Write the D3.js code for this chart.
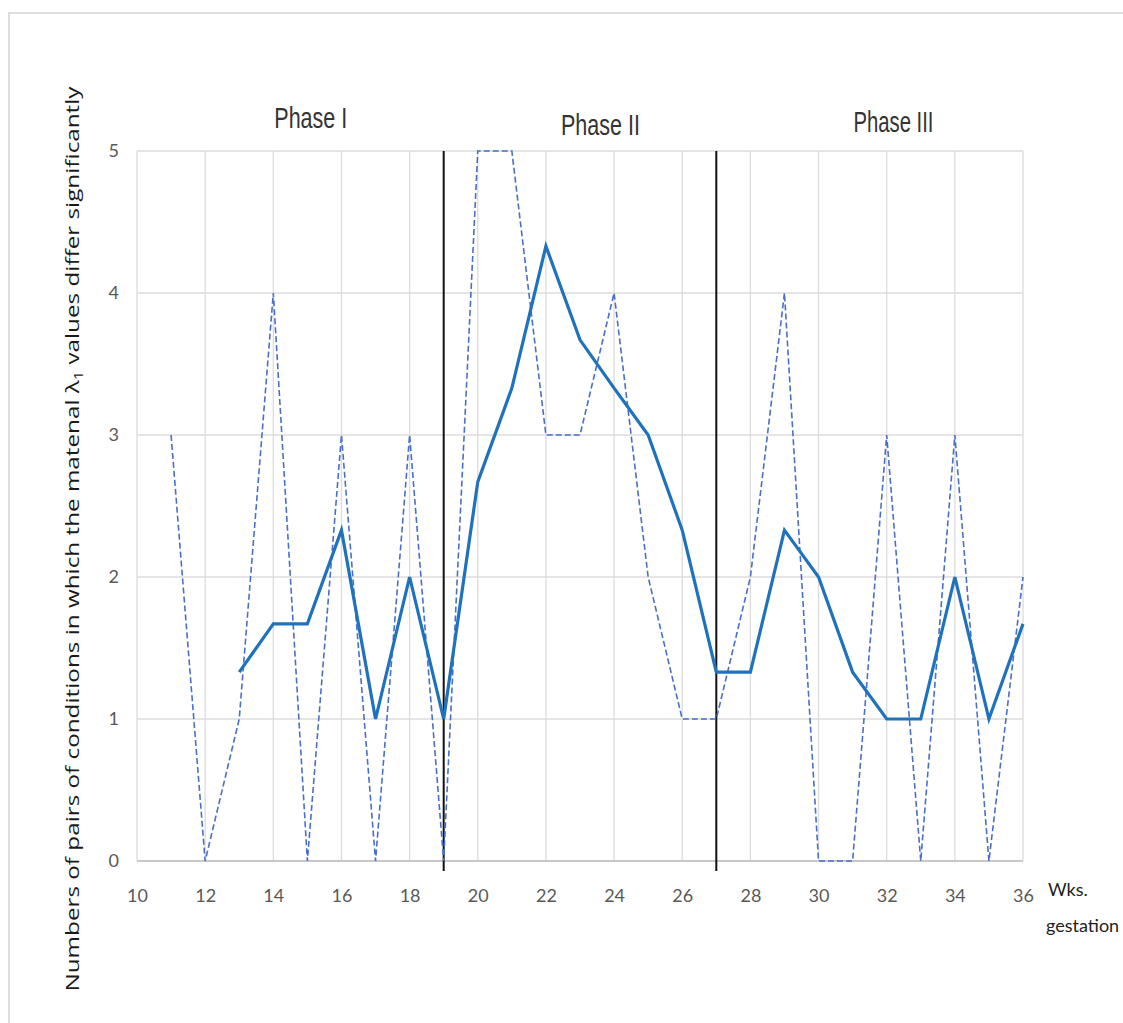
<!DOCTYPE html>
<html>
<head>
<meta charset="utf-8">
<script src="https://cdn.jsdelivr.net/npm/d3@7"></script>
<style>
  body { margin: 0; background: #fff; }
  svg { display: block; }
</style>
</head>
<body>
<div id="chart"></div>
<script>
// weeks of gestation
const weeks = [11, 12, 13, 14, 15, 16, 17, 18, 19, 20, 21, 22, 23, 24, 25, 26, 27, 28, 29, 30, 31, 32, 33, 34, 35, 36];
// counts per week (dashed)
const counts = [3, 0, 1, 4, 0, 3, 0, 3, 0, 5, 5, 3, 3, 4, 2, 1, 1, 2, 4, 0, 0, 3, 0, 3, 0, 2];
// smoothed curve (solid), starts at week 13
const smoothWeeks = [13, 14, 15, 16, 17, 18, 19, 20, 21, 22, 23, 24, 25, 26, 27, 28, 29, 30, 31, 32, 33, 34, 35, 36];
const smooth = [1.33, 1.67, 1.67, 2.33, 1, 2, 1, 2.67, 3.33, 4.33, 3.67, 3.33, 3, 2.33, 1.33, 1.33, 2.33, 2, 1.33, 1, 1, 2, 1, 1.67];
const xTicks = [10, 12, 14, 16, 18, 20, 22, 24, 26, 28, 30, 32, 34, 36];
const yTicks = [0, 1, 2, 3, 4, 5];
const phaseBreaks = [19, 27];
const phases = [
  { label: "Phase I", x: 15.1, y: 118, w: 73 },
  { label: "Phase II", x: 23.6, y: 125, w: 79 },
  { label: "Phase III", x: 32.2, y: 122, w: 80 }
];

const width = 1123;
const height = 1023;
const margin = { top: 151, right: 100, bottom: 162, left: 137 };

const svg = d3.select("#chart")
  .append("svg")
  .attr("width", width)
  .attr("height", height);

// faint frame
svg.append("path")
  .attr("d", `M9,${height} V13 H${width}`)
  .attr("fill", "none")
  .attr("stroke", "#dedede")
  .attr("stroke-width", 2);

const x = d3.scaleLinear().domain([10, 36]).range([margin.left, width - margin.right]);
const y = d3.scaleLinear().domain([0, 5]).range([height - margin.bottom, margin.top]);

const grid = svg.append("g");
grid.selectAll("line.v")
  .data(xTicks)
  .enter()
  .append("line")
  .attr("x1", d => x(d)).attr("x2", d => x(d))
  .attr("y1", y(5)).attr("y2", y(0))
  .attr("stroke", "#dcdcdc")
  .attr("stroke-width", 1.3);
grid.selectAll("line.h")
  .data(yTicks)
  .enter()
  .append("line")
  .attr("x1", x(10)).attr("x2", x(36))
  .attr("y1", d => y(d)).attr("y2", d => y(d))
  .attr("stroke", d => d === 0 ? "#c8c8c8" : "#dcdcdc")
  .attr("stroke-width", d => d === 0 ? 2 : 1.6);

const tickFont = "Lato, 'Open Sans', sans-serif";

const xAxis = svg.append("g")
  .attr("transform", `translate(0, ${y(0)})`)
  .call(d3.axisBottom(x).tickValues(xTicks).tickFormat(d3.format("d")).tickSize(0).tickPadding(28));
xAxis.select(".domain").remove();
xAxis.selectAll("text")
  .attr("fill", "#595959")
  .style("font-family", tickFont)
  .style("font-size", "18px");

const yAxis = svg.append("g")
  .attr("transform", `translate(${margin.left}, 0)`)
  .call(d3.axisLeft(y).tickValues(yTicks).tickFormat(d3.format("d")).tickSize(0).tickPadding(18));
yAxis.select(".domain").remove();
yAxis.selectAll("text")
  .attr("fill", "#595959")
  .style("font-family", tickFont)
  .style("font-size", "18px");

// phase separators
svg.append("g")
  .selectAll("line")
  .data(phaseBreaks)
  .enter()
  .append("line")
  .attr("x1", d => x(d)).attr("x2", d => x(d))
  .attr("y1", y(5)).attr("y2", y(0) + 10)
  .attr("stroke", "#111")
  .attr("stroke-width", 2);

const dashed = d3.line()
  .x((d, i) => x(weeks[i]))
  .y(d => y(d));
svg.append("path")
  .datum(counts)
  .attr("d", dashed)
  .attr("fill", "none")
  .attr("stroke", "#4a6fc9")
  .attr("stroke-width", 1.6)
  .attr("stroke-dasharray", "6,3");

const solid = d3.line()
  .x((d, i) => x(smoothWeeks[i]))
  .y(d => y(d));
svg.append("path")
  .datum(smooth)
  .attr("d", solid)
  .attr("fill", "none")
  .attr("stroke", "#1f72bb")
  .attr("stroke-width", 3.2)
  .attr("stroke-linejoin", "miter");

svg.append("g")
  .selectAll("text")
  .data(phases)
  .enter()
  .append("text")
  .attr("x", d => x(d.x))
  .attr("y", d => d.y + 10)
  .attr("text-anchor", "middle")
  .attr("textLength", d => d.w)
  .attr("lengthAdjust", "spacingAndGlyphs")
  .attr("fill", "#333")
  .style("font-family", "'Liberation Sans', Arial, sans-serif")
  .style("font-size", "29px")
  .text(d => d.label);

const axisTitle = svg.append("text")
  .attr("x", 1048)
  .attr("y", 896)
  .attr("fill", "#222")
  .style("font-family", tickFont)
  .style("font-size", "18px");
axisTitle.append("tspan").attr("x", 1048).text("Wks.");
axisTitle.append("tspan").attr("x", 1046).attr("dy", 36).text("gestation");

const yTitle = svg.append("text")
  .attr("transform", "translate(79, 539) rotate(-90)")
  .attr("text-anchor", "middle")
  .attr("textLength", 905)
  .attr("lengthAdjust", "spacingAndGlyphs")
  .attr("fill", "#1a1a1a")
  .style("font-family", "'Open Sans', sans-serif")
  .style("font-size", "18px");
yTitle.append("tspan").text("Numbers of pairs of conditions in which the matenal λ");
yTitle.append("tspan").attr("dy", 4).style("font-size", "12px").text("1");
yTitle.append("tspan").attr("dy", -4).text(" values  differ significantly");
</script>
</body>
</html>
